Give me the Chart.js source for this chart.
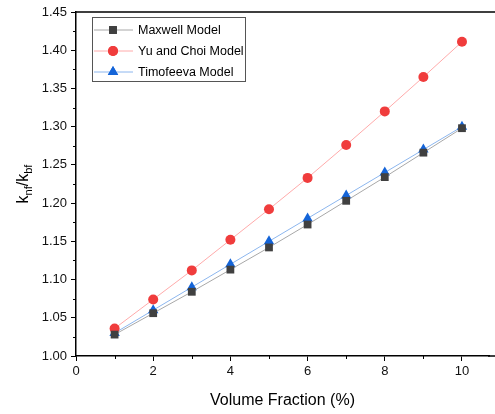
<!DOCTYPE html>
<html>
<head>
<meta charset="utf-8">
<script src="https://cdn.jsdelivr.net/npm/chart.js@4/dist/chart.umd.min.js"></script>
<style>
  html, body { margin:0; padding:0; background:#fff; }
  #wrap { width:495px; height:414px; }
</style>
</head>
<body>
<div id="wrap"><canvas id="c" width="495" height="414"></canvas></div>
<script>
// Données
const volumeFraction = [1, 2, 3, 4, 5, 6, 7, 8, 9, 10];
const maxwell   = [1.028, 1.056, 1.084, 1.113, 1.142, 1.172, 1.203, 1.234, 1.266, 1.298];
const yuChoi    = [1.036, 1.074, 1.112, 1.152, 1.192, 1.233, 1.276, 1.320, 1.365, 1.411];
const timofeeva = [1.030, 1.060, 1.090, 1.120, 1.150, 1.180, 1.210, 1.240, 1.270, 1.300];
const seriesNames = ['Maxwell Model', 'Yu and Choi Model', 'Timofeeva Model'];
const xTicks = [0, 2, 4, 6, 8, 10];
const yTicks = [1.00, 1.05, 1.10, 1.15, 1.20, 1.25, 1.30, 1.35, 1.40, 1.45];

const FONT = 'Arial, "Liberation Sans", sans-serif';

const toPts = arr => arr.map((v, i) => ({ x: volumeFraction[i], y: v }));

const datasets = [
  { label: seriesNames[0], data: toPts(maxwell), borderColor: '#a8a8a8', backgroundColor: '#404040',
    pointStyle: 'rect', pointRadius: 5.5, borderWidth: 1, pointBorderWidth: 0 },
  { label: seriesNames[1], data: toPts(yuChoi), borderColor: '#ffaaaa', backgroundColor: '#f03c3c',
    pointStyle: 'circle', pointRadius: 5, borderWidth: 1, pointBorderWidth: 0 },
  { label: seriesNames[2], data: toPts(timofeeva), borderColor: '#8cb6ee', backgroundColor: '#1464d8',
    pointStyle: 'triangle', pointRadius: 6, borderWidth: 1, pointBorderWidth: 0 }
];

// Cadre, petites graduations, titre Y avec indices, légende
const decorPlugin = {
  id: 'decor',
  afterDraw(chart) {
    const ctx = chart.ctx;
    const a = chart.chartArea;
    const xs = chart.scales.x, ys = chart.scales.y;
    ctx.save();
    ctx.strokeStyle = '#000';
    ctx.lineWidth = 1.5;
    // bord haut + prolongement de l'axe X jusqu'au bord de l'image
    ctx.beginPath();
    ctx.moveTo(a.left, a.top); ctx.lineTo(chart.width, a.top);
    ctx.moveTo(a.right - 1, a.bottom); ctx.lineTo(chart.width, a.bottom);
    ctx.stroke();
    // petites graduations
    ctx.lineWidth = 1;
    ctx.beginPath();
    for (let v = 1; v <= 10; v += 2) {
      const px = Math.round(xs.getPixelForValue(v)) + 0.5;
      ctx.moveTo(px, a.bottom); ctx.lineTo(px, a.bottom + 3);
    }
    for (let i = 0; i < yTicks.length - 1; i++) {
      const py = Math.round(ys.getPixelForValue(yTicks[i] + 0.025)) + 0.5;
      ctx.moveTo(a.left, py); ctx.lineTo(a.left - 3, py);
    }
    ctx.stroke();

    // titre axe Y : k_nf / k_bf
    ctx.save();
    ctx.translate(28, (a.top + a.bottom) / 2);
    ctx.rotate(-Math.PI / 2);
    ctx.fillStyle = '#000';
    ctx.textBaseline = 'alphabetic';
    const big = '16px ' + FONT, small = '11px ' + FONT;
    const parts = [['k', big, 0], ['nf', small, 4], ['/k', big, 0], ['bf', small, 4]];
    let w = 0;
    parts.forEach(p => { ctx.font = p[1]; w += ctx.measureText(p[0]).width; });
    let x = -w / 2;
    parts.forEach(p => { ctx.font = p[1]; ctx.fillText(p[0], x, p[2]); x += ctx.measureText(p[0]).width; });
    ctx.restore();

    // légende
    const lx = 92, ly = 17, lw = 153, lh = 64;
    ctx.fillStyle = '#fff';
    ctx.fillRect(lx, ly, lw, lh);
    ctx.strokeStyle = '#555';
    ctx.lineWidth = 1;
    ctx.strokeRect(lx + 0.5, ly + 0.5, lw, lh);
    chart.data.datasets.forEach((ds, i) => {
      const y = 30 + i * 21;
      ctx.strokeStyle = ds.borderColor;
      ctx.lineWidth = 1;
      ctx.beginPath(); ctx.moveTo(94, y); ctx.lineTo(133, y); ctx.stroke();
      ctx.fillStyle = ds.backgroundColor;
      Chart.helpers.drawPoint(ctx, { pointStyle: ds.pointStyle, radius: ds.pointRadius, rotation: 0, borderWidth: 0 }, 113, y);
      ctx.fill();
      ctx.fillStyle = '#000';
      ctx.font = '12.5px ' + FONT;
      ctx.textBaseline = 'middle';
      ctx.fillText(ds.label, 138, y + 1);
    });
    ctx.restore();
  }
};

new Chart(document.getElementById('c'), {
  type: 'line',
  data: { datasets },
  plugins: [decorPlugin],
  options: {
    responsive: false,
    animation: false,
    layout: { padding: { top: 12, right: 0, left: 0, bottom: 0 } },
    plugins: { legend: { display: false }, tooltip: { enabled: false } },
    scales: {
      x: {
        type: 'linear', min: 0, max: 10.7,
        afterBuildTicks: s => { s.ticks = xTicks.map(v => ({ value: v })); },
        afterFit: s => { s.height = 58; },
        grid: { drawOnChartArea: false, tickLength: 5, color: '#000', tickWidth: 1 },
        border: { color: '#000', width: 1.5 },
        ticks: { color: '#111', font: { family: FONT, size: 13 }, padding: 3, maxRotation: 0 },
        title: { display: true, text: 'Volume Fraction (%)', color: '#000',
                 font: { family: FONT, size: 16 }, padding: { top: 6 } }
      },
      y: {
        type: 'linear', min: 1.00, max: 1.45,
        afterBuildTicks: s => { s.ticks = yTicks.map(v => ({ value: v })); },
        afterFit: s => { s.width = 76; },
        grid: { drawOnChartArea: false, tickLength: 5, color: '#000', tickWidth: 1 },
        border: { color: '#000', width: 1.5 },
        ticks: { color: '#111', font: { family: FONT, size: 13 }, padding: 4,
                 callback: v => Number(v).toFixed(2) }
      }
    }
  }
});
</script>
</body>
</html>
